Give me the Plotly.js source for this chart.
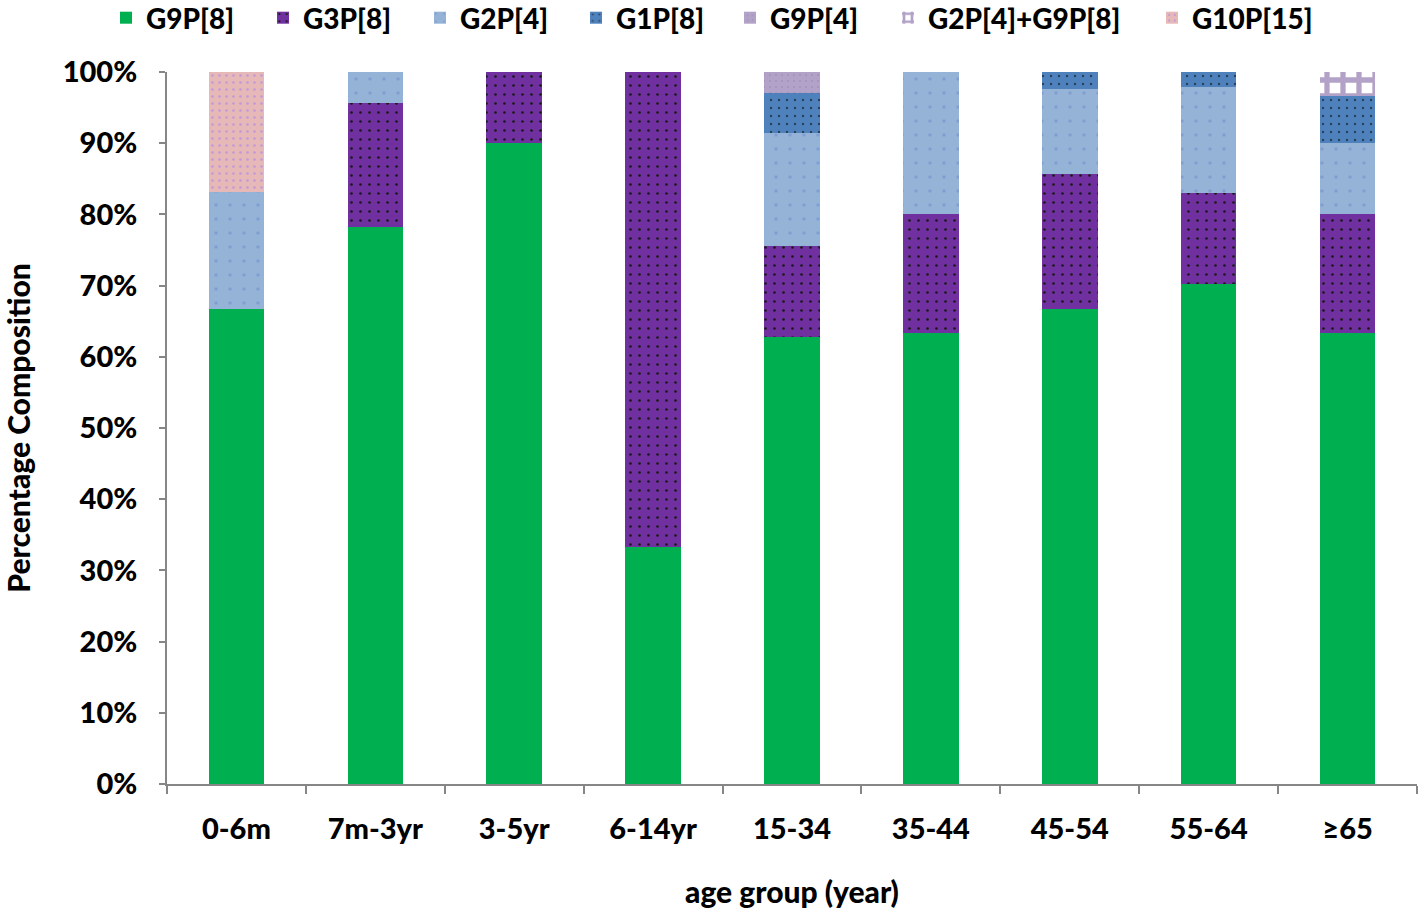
<!DOCTYPE html>
<html>
<head>
<meta charset="utf-8">
<script src="https://cdn.plot.ly/plotly-3.0.1.min.js"></script>
<style>html,body{margin:0;padding:0;background:#fff;}#chart{width:1418px;height:909px;}</style>
</head>
<body>
<div id="chart"></div>
<script>
const categories = ["0-6m", "7m-3yr", "3-5yr", "6-14yr", "15-34", "35-44", "45-54", "55-64", "≥65"];
const G9P8 = [66.7, 78.3, 90.0, 33.3, 62.8, 63.3, 66.7, 70.2, 63.3];
const G3P8 = [0, 17.4, 10.0, 66.7, 12.8, 16.7, 19.0, 12.8, 16.7];
const G2P4 = [16.5, 4.3, 0, 0, 15.8, 20.0, 11.9, 14.9, 10.0];
const G1P8 = [0, 0, 0, 0, 5.7, 0, 2.4, 2.1, 6.7];
const G9P4 = [0, 0, 0, 0, 2.9, 0, 0, 0, 0];
const G2P4_G9P8 = [0, 0, 0, 0, 0, 0, 0, 0, 3.3];
const G10P15 = [16.8, 0, 0, 0, 0, 0, 0, 0, 0];

const font = "Lato, 'Open Sans', sans-serif";
const W = 900;
function mk(name, vals, color, pattern, lg) {
  return {
    type: "bar", name: name, x: categories, y: vals.map(v => v / 100),
    marker: { color: color, line: { width: 0 }, pattern: pattern },
    legend: lg, hoverinfo: "x+y+name"
  };
}
const data = [
  mk("G9P[8]", G9P8, "#00b050", { shape: "" }, "legend"),
  mk("G3P[8]", G3P8, "#7030a0", { shape: ".", fgcolor: "#1a1a1a", bgcolor: "#7030a0", size: 9, solidity: 0.07 }, "legend2"),
  mk("G2P[4]", G2P4, "#95b3d7", { shape: ".", fgcolor: "#7f9fd0", bgcolor: "#95b3d7", size: 14, solidity: 0.05 }, "legend3"),
  mk("G1P[8]", G1P8, "#4f81bd", { shape: ".", fgcolor: "#2a3f5a", bgcolor: "#4f81bd", size: 8, solidity: 0.07 }, "legend4"),
  mk("G9P[4]", G9P4, "#b3a2c7", { shape: ".", fgcolor: "#a393bd", bgcolor: "#b3a2c7", size: 6, solidity: 0.1 }, "legend5"),
  mk("G2P[4]+G9P[8]", G2P4_G9P8, "#b3a2c7", { shape: "+", fgcolor: "#b3a2c7", bgcolor: "#ffffff", size: 16, solidity: 0.55, fillmode: "replace" }, "legend6"),
  mk("G10P[15]", G10P15, "#e6b9b8", { shape: ".", fgcolor: "#c39ad6", bgcolor: "#e6b9b8", size: 7, solidity: 0.12 }, "legend7")
];

function legendAt(px) {
  return {
    orientation: "h", x: px / 1418, xanchor: "left", xref: "container",
    y: 1 - 18 / 909, yanchor: "middle", yref: "container",
    font: { family: font, size: 28, weight: W, color: "#000" },
    itemsizing: "constant", itemwidth: 30, bgcolor: "rgba(0,0,0,0)"
  };
}
const legendLefts = [120, 277, 434, 590, 744, 902, 1166];
const layout = {
  width: 1418, height: 909,
  barmode: "stack", bargap: 0.6,
  margin: { l: 167, r: 1, t: 72, b: 125 },
  paper_bgcolor: "#ffffff", plot_bgcolor: "#ffffff",
  font: { family: font, size: 28, color: "#000" },
  showlegend: true,
  xaxis: {
    type: "category", showgrid: false, zeroline: false,
    showline: true, linecolor: "#868686", linewidth: 2,
    ticks: "outside", tickson: "boundaries", ticklen: 8, tickcolor: "#868686", tickwidth: 2,
    tickfont: { family: font, size: 29, weight: W, color: "#000" },
    ticklabelstandoff: 18,
    title: { text: "age group (year)", font: { family: font, size: 30, weight: W, color: "#000" }, standoff: 39 }
  },
  yaxis: {
    range: [0, 1], dtick: 0.1, tickformat: ".0%", showgrid: false, zeroline: false,
    showline: true, linecolor: "#868686", linewidth: 2,
    ticks: "outside", ticklen: 6, tickcolor: "#868686", tickwidth: 2,
    tickfont: { family: font, size: 29, weight: W, color: "#000" },
    ticklabelstandoff: 16,
    title: { text: "Percentage Composition", font: { family: font, size: 30, weight: W, color: "#000" }, standoff: 26 }
  }
};
legendLefts.forEach((px, i) => {
  layout[i === 0 ? "legend" : "legend" + (i + 1)] = legendAt(px - 14);
});
Plotly.newPlot("chart", data, layout, { displayModeBar: false, staticPlot: true });
</script>
</body>
</html>
